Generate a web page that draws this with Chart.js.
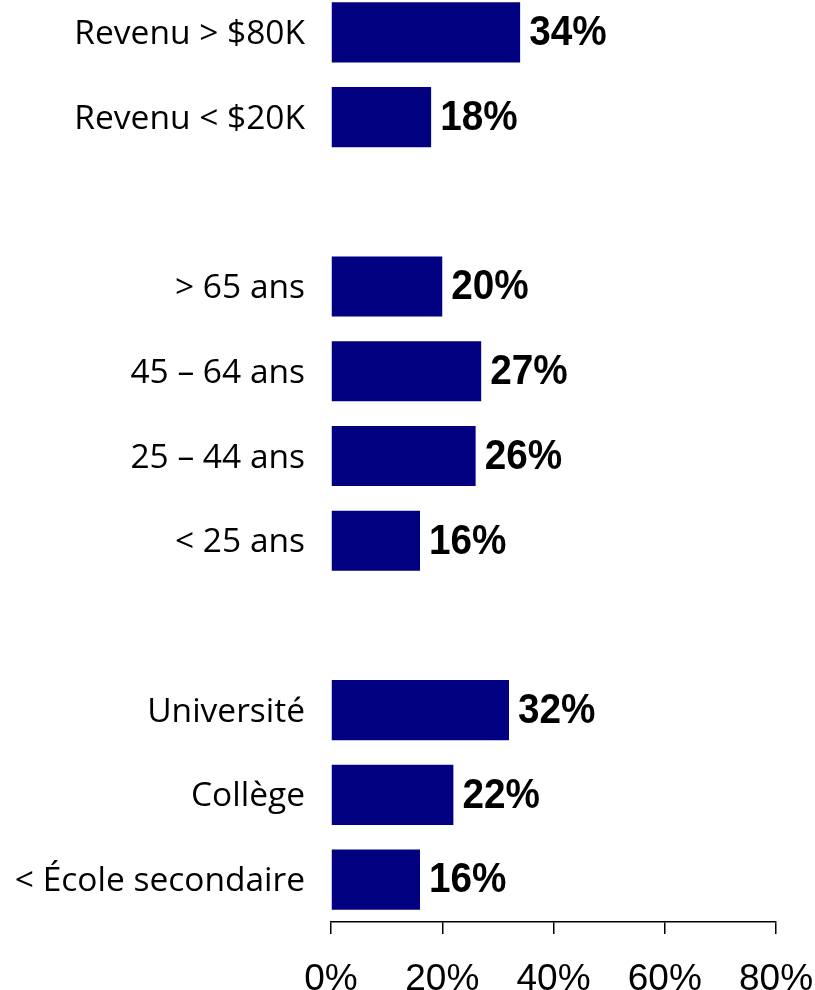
<!DOCTYPE html>
<html>
<head>
<meta charset="utf-8">
<script src="https://cdn.jsdelivr.net/npm/chart.js@4/dist/chart.umd.min.js"></script>
<style>
  html, body { margin: 0; padding: 0; background: #fff; overflow: hidden; }
  #wrap { position: relative; width: 815px; height: 990px; overflow: hidden; }
  #chart { position: absolute; left: 0; top: -10px; }
</style>
</head>
<body>
<div id="wrap"><canvas id="chart" width="815" height="1000"></canvas></div>
<script>
// Categories (empty strings leave a blank row between groups)
const categories = [
  'Revenu > $80K',
  'Revenu < $20K',
  '',
  '> 65 ans',
  '45 – 64 ans',
  '25 – 44 ans',
  '< 25 ans',
  '',
  'Université',
  'Collège',
  '< École secondaire'
];

// Share of respondents, in percent (null = blank row)
const shares = [34, 18, null, 20, 27, 26, 16, null, 32, 22, 16];

// X axis ticks
const xTicks = [0, 20, 40, 60, 80];

// Writes the percentage to the right of each bar
const valueLabels = {
  id: 'valueLabels',
  afterDatasetsDraw(chart) {
    const ctx = chart.ctx;
    const meta = chart.getDatasetMeta(0);
    ctx.save();
    ctx.fillStyle = '#000';
    ctx.font = 'bold 43px "Liberation Sans", Arial, sans-serif';
    ctx.textAlign = 'left';
    ctx.textBaseline = 'middle';
    meta.data.forEach((bar, i) => {
      const v = shares[i];
      if (v === null || v === undefined) return;
      ctx.save();
      ctx.translate(bar.x + 9, bar.y + 1);
      ctx.scale(0.9, 1);
      ctx.fillText(v + '%', 0, 0);
      ctx.restore();
    });
    ctx.restore();
  }
};

new Chart(document.getElementById('chart'), {
  type: 'bar',
  data: {
    labels: categories,
    datasets: [{
      data: shares,
      backgroundColor: '#000080',
      borderWidth: 0,
      barPercentage: 0.71,
      categoryPercentage: 1
    }]
  },
  options: {
    indexAxis: 'y',
    responsive: false,
    animation: false,
    devicePixelRatio: 1,
    layout: { padding: { left: 0, right: 39, top: 0, bottom: 0 } },
    plugins: {
      legend: { display: false },
      tooltip: { enabled: false },
      title: { display: false }
    },
    scales: {
      x: {
        type: 'linear',
        min: 0,
        max: 80,
        afterBuildTicks(scale) {
          scale.ticks = xTicks.map(v => ({ value: v }));
        },
        afterFit(scale) {
          scale.height = 68;
          scale.paddingLeft = 0;
          scale.paddingRight = 0;
        },
        border: { display: true, color: '#000', width: 1.5 },
        grid: {
          display: true,
          drawOnChartArea: false,
          drawTicks: true,
          tickLength: 12,
          color: '#000',
          lineWidth: 1.5
        },
        ticks: {
          color: '#000',
          padding: 27,
          maxRotation: 0,
          font: { family: '"Liberation Sans", Arial, sans-serif', size: 37, lineHeight: 1 },
          callback: v => v + '%'
        }
      },
      y: {
        type: 'category',
        afterFit(scale) {
          scale.width = 331;
          scale.paddingTop = 0;
          scale.paddingBottom = 0;
        },
        border: { display: false },
        grid: { display: false, drawTicks: false },
        ticks: {
          color: '#000',
          padding: 26,
          labelOffset: 2,
          autoSkip: false,
          font: { family: '"Open Sans", sans-serif', size: 33.5, lineHeight: 1 }
        }
      }
    }
  },
  plugins: [valueLabels]
});
</script>
</body>
</html>
